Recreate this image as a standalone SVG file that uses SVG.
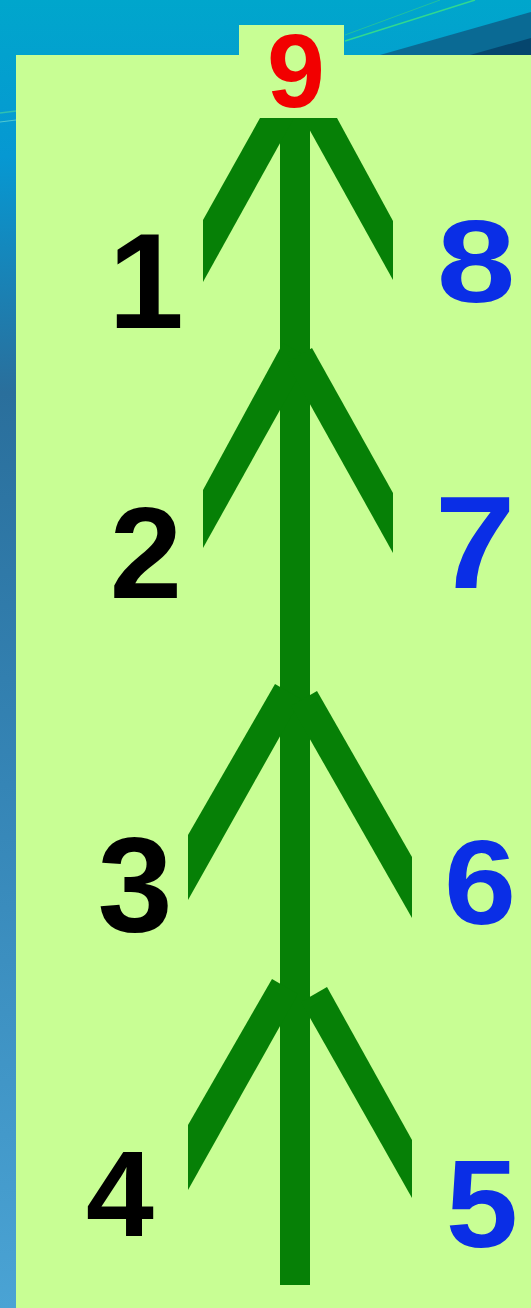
<svg xmlns="http://www.w3.org/2000/svg" width="531" height="1308" viewBox="0 0 531 1308">
<defs>
<linearGradient id="bg" x1="0" y1="0" x2="0" y2="1">
<stop offset="0" stop-color="#00a6cc"/>
<stop offset="0.12" stop-color="#0698d2"/>
<stop offset="0.3" stop-color="#2a6f9c"/>
<stop offset="0.6" stop-color="#3585b6"/>
<stop offset="1" stop-color="#4aa3d4"/>
</linearGradient>
<style>
.num{font-family:"Liberation Sans",Arial,sans-serif;font-weight:bold;text-anchor:middle}
.k{fill:#000000}
.b{fill:#0a2ee6}
.r{fill:#f20000}
.br{fill:#068006}
</style>
</defs>
<rect x="0" y="0" width="531" height="1308" fill="url(#bg)"/>
<path d="M380,55 L531,12 L531,55 Z" fill="#0a6a94"/>
<path d="M470,55 L531,38 L531,55 Z" fill="#05466e"/>
<line x1="345" y1="41" x2="475" y2="0" stroke="#30d890" stroke-width="1.5"/>
<line x1="345" y1="35" x2="440" y2="0" stroke="#20c0a0" stroke-width="1"/>
<line x1="0" y1="113" x2="16" y2="111" stroke="#30c0b0" stroke-width="1.5"/>
<line x1="0" y1="122" x2="16" y2="120" stroke="#50c8d0" stroke-width="1"/>
<rect x="16" y="55" width="515" height="1253" fill="#c8fe94"/>
<rect x="239" y="25" width="105" height="31" fill="#c8fe94"/>
<g id="tree">
<rect class="br" x="280" y="118" width="30" height="1167"/>
<polygon class="br" points="260,118 294,118 203,282 203,220"/>
<polygon class="br" points="303,118 337,118 393,221 393,280"/>
<polygon class="br" points="283,343 309,358 203,548 203,490"/>
<polygon class="br" points="312,348 393,493 393,553 287,363"/>
<polygon class="br" points="275,684 301,699 188,900 188,835"/>
<polygon class="br" points="317,691 412,857 412,918 291,706"/>
<polygon class="br" points="272,979 298,994 188,1190 188,1125"/>
<polygon class="br" points="327,987 412,1140 412,1198 301,1002"/>
</g>
<g id="n9"><text class="num r" x="296" y="107" font-size="104">9</text></g>
<g id="n1"><text class="num k" x="146" y="328" font-size="136">1</text></g>
<g id="n2"><text class="num k" x="146" y="598" font-size="130">2</text></g>
<g id="n3"><text class="num k" x="135" y="931" font-size="135">3</text></g>
<g id="n4"><text class="num k" x="120" y="1236" font-size="122">4</text></g>
<g id="n8"><text class="num b" transform="translate(476,302) scale(1.22,1)" x="0" y="0" font-size="116">8</text></g>
<g id="n7"><text class="num b" transform="translate(475,588) scale(1.1,1)" x="0" y="0" font-size="132">7</text></g>
<g id="n6"><text class="num b" transform="translate(480,924) scale(1.08,1)" x="0" y="0" font-size="120">6</text></g>
<g id="n5"><text class="num b" transform="translate(482,1247) scale(1.04,1)" x="0" y="0" font-size="125">5</text></g>
</svg>
